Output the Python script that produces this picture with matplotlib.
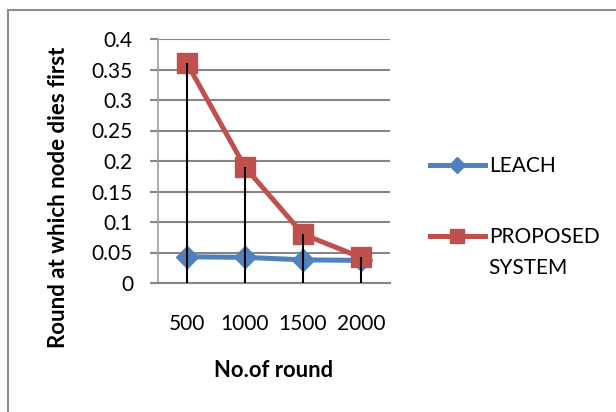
import matplotlib.pyplot as plt
import matplotlib.patches as patches
import numpy as np

rounds = ['500', '1000', '1500', '2000']
leach = [0.043, 0.042, 0.038, 0.037]
proposed = [0.36, 0.19, 0.08, 0.042]
yticks = [0, 0.05, 0.1, 0.15, 0.2, 0.25, 0.3, 0.35, 0.4]
ytick_labels = ['0', '0.05', '0.1', '0.15', '0.2', '0.25', '0.3', '0.35', '0.4']

plt.rcParams['font.family'] = ['Lato', 'DejaVu Sans']

W, H = 616, 412
fig = plt.figure(figsize=(W / 100, H / 100), dpi=100)
ax = fig.add_axes([158 / W, 1 - 283 / H, 232 / W, 244 / H])

x = np.arange(len(rounds))
grid_col = '#868686'

# drop lines from highest point to the axis
tops = np.maximum(leach, proposed)
ax.vlines(x, 0, tops, color='black', lw=1.5, zorder=4)

ax.plot(x, leach, color='#4F81BD', lw=3.6, marker='D', markersize=11,
        label='LEACH', zorder=3)
ax.plot(x, proposed, color='#C0504D', lw=3.6, marker='s', markersize=14,
        label='PROPOSED', zorder=3)

ax.set_xlim(-0.5, len(rounds) - 0.5)
ax.set_ylim(0, 0.4)
ax.set_yticks(yticks)
ax.set_yticklabels(ytick_labels)
ax.set_xticks(x)
ax.set_xticklabels(rounds)
ax.yaxis.grid(True, color=grid_col, lw=1.5)
ax.set_axisbelow(True)
for s in ['top', 'right']:
    ax.spines[s].set_visible(False)
ax.spines['left'].set_color('#A0A0A0')
ax.spines['bottom'].set_color(grid_col)
ax.spines['left'].set_linewidth(1.2)
ax.spines['bottom'].set_linewidth(1.5)
ax.tick_params(axis='y', length=6, width=1.5, color=grid_col, labelsize=15, pad=12)
ax.tick_params(axis='x', length=0, labelsize=15, pad=22)
ax.set_ylabel('Round at which node dies first', fontsize=16, fontweight='bold')
ax.yaxis.set_label_coords(-0.385, 0.35)
ax.set_xlabel('No.of round', fontsize=15.8, fontweight='bold', labelpad=19)

leg = fig.legend(loc='upper left', bbox_to_anchor=(422 / W, 1 - 148 / H), frameon=False,
                 fontsize=15, handlelength=2.6, handletextpad=0.2, labelspacing=2.45,
                 borderaxespad=0, markerscale=0.72)

# second line of the proposed label, placed under the legend text
fig.canvas.draw()
bb = leg.get_texts()[1].get_window_extent()
fig.text(bb.x0 / W, (bb.y0 - 31) / H, 'SYSTEM', fontsize=15, va='bottom', ha='left')

border = patches.Rectangle((8 / W, -0.1), 1.2, 1 - 10 / H + 0.1, transform=fig.transFigure,
                           fill=False, edgecolor='#8C8C8C', lw=1.5)
fig.patches.append(border)

fig.savefig('out.png', dpi=100)
